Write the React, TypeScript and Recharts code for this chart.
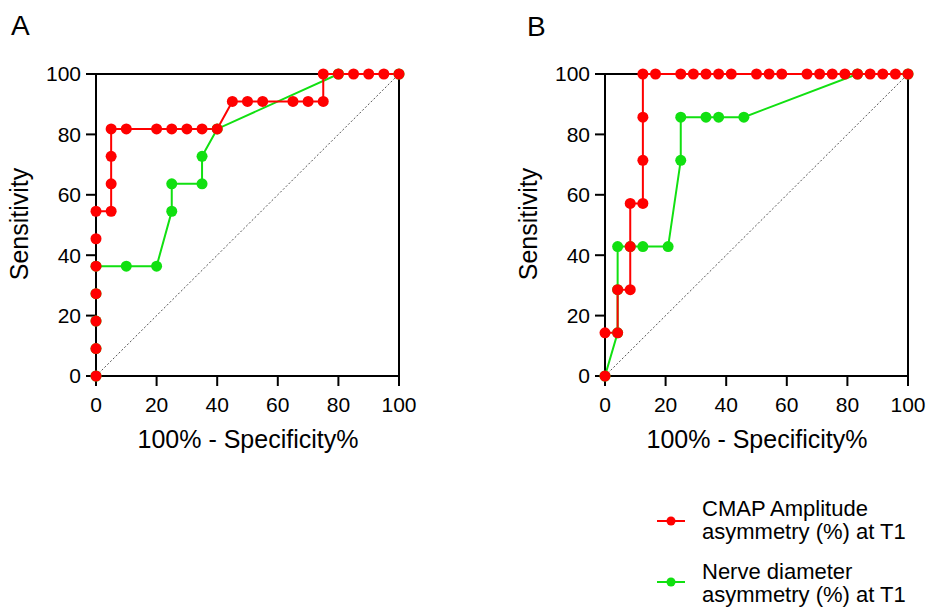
import { LineChart, Line, XAxis, YAxis, ReferenceLine } from 'recharts'

// Panel A: 1 - specificity (%) and sensitivity (%)
const A_CMAP_X = [0, 0, 0, 0, 0, 0, 0, 5, 5, 5, 5, 10, 20, 25, 30, 35, 40, 45, 50, 55, 65, 70, 75, 75, 80, 85, 90, 95, 100]
const A_CMAP_Y = [0, 9.09, 18.18, 27.27, 36.36, 45.45, 54.55, 54.55, 63.64, 72.73, 81.82, 81.82, 81.82, 81.82, 81.82, 81.82, 81.82, 90.91, 90.91, 90.91, 90.91, 90.91, 90.91, 100, 100, 100, 100, 100, 100]
const A_NERVE_X = [0, 0, 0, 0, 0, 10, 20, 25, 25, 35, 35, 40, 80, 100]
const A_NERVE_Y = [0, 9.09, 18.18, 27.27, 36.36, 36.36, 36.36, 54.55, 63.64, 63.64, 72.73, 81.82, 100, 100]

// Panel B
const B_CMAP_X = [0, 0, 4.17, 4.17, 8.33, 8.33, 8.33, 12.5, 12.5, 12.5, 12.5, 16.67, 25, 29.17, 33.33, 37.5, 41.67, 50, 54.17, 58.33, 66.67, 70.83, 75, 79.17, 83.33, 87.5, 91.67, 95.83, 100]
const B_CMAP_Y = [0, 14.29, 14.29, 28.57, 28.57, 42.86, 57.14, 57.14, 71.43, 85.71, 100, 100, 100, 100, 100, 100, 100, 100, 100, 100, 100, 100, 100, 100, 100, 100, 100, 100, 100]
const B_NERVE_X = [0, 4.17, 4.17, 4.17, 8.33, 12.5, 20.83, 25, 25, 33.33, 37.5, 45.83, 83.33, 100]
const B_NERVE_Y = [0, 14.29, 28.57, 42.86, 42.86, 42.86, 42.86, 71.43, 85.71, 85.71, 85.71, 85.71, 100, 100]

const TICKS = [0, 20, 40, 60, 80, 100]
const SERIES_NAMES = ['CMAP Amplitude|asymmetry (%) at T1', 'Nerve diameter|asymmetry (%) at T1']

const RED = '#ff0000'
const GREEN = '#11e011'
const FONT = '"Liberation Sans", Arial, sans-serif'

const toPoints = (xs: number[], ys: number[]) => xs.map((x, i) => ({ x, y: ys[i] }))

function RocPanel({ cmapX, cmapY, nerveX, nerveY }: { cmapX: number[]; cmapY: number[]; nerveX: number[]; nerveY: number[] }) {
    const tick = { fontSize: 21, fill: '#000', fontFamily: FONT }
    return (
        <LineChart width={418} height={460} margin={{ top: 74, right: 19, bottom: 54, left: 36 }}>
            <XAxis
                type="number"
                dataKey="x"
                domain={[0, 100]}
                ticks={TICKS}
                tick={tick}
                tickSize={10}
                tickMargin={11}
                height={30}
                stroke="#000"
                strokeWidth={2}
                allowDuplicatedCategory={false}
            />
            <YAxis
                type="number"
                dataKey="y"
                domain={[0, 100]}
                ticks={TICKS}
                tick={tick}
                tickSize={10}
                tickMargin={5}
                width={60}
                stroke="#000"
                strokeWidth={2}
            />
            <ReferenceLine y={100} stroke="#000" strokeWidth={2} />
            <ReferenceLine x={100} stroke="#000" strokeWidth={2} />
            <ReferenceLine
                segment={[{ x: 0, y: 0 }, { x: 100, y: 100 }]}
                stroke="#555"
                strokeWidth={1}
                strokeDasharray="2 2"
            />
            <Line
                data={toPoints(nerveX, nerveY)}
                dataKey="y"
                stroke={GREEN}
                strokeWidth={2}
                dot={{ r: 5.5, fill: GREEN, stroke: GREEN, strokeWidth: 0 }}
                isAnimationActive={false}
            />
            <Line
                data={toPoints(cmapX, cmapY)}
                dataKey="y"
                stroke={RED}
                strokeWidth={2}
                dot={{ r: 5.5, fill: RED, stroke: RED, strokeWidth: 0 }}
                isAnimationActive={false}
            />
        </LineChart>
    )
}

export default function App() {
    const titleStyle = { fontFamily: FONT, fill: '#000' }
    return (
        <div style={{ position: 'absolute', left: 0, top: 0, width: 928, height: 607, background: '#fff', overflow: 'hidden' }}>
            <div style={{ position: 'absolute', left: 0, top: 0 }}>
                <RocPanel cmapX={A_CMAP_X} cmapY={A_CMAP_Y} nerveX={A_NERVE_X} nerveY={A_NERVE_Y} />
            </div>
            <div style={{ position: 'absolute', left: 509, top: 0 }}>
                <RocPanel cmapX={B_CMAP_X} cmapY={B_CMAP_Y} nerveX={B_NERVE_X} nerveY={B_NERVE_Y} />
            </div>
            {/* titles, panel letters and legend */}
            <svg width={928} height={607} style={{ position: 'absolute', left: 0, top: 0, pointerEvents: 'none' }}>
                <text x={11} y={35} fontSize={28} {...titleStyle}>A</text>
                <text x={527} y={36} fontSize={28} {...titleStyle}>B</text>
                {[0, 509].map((dx) => (
                    <g key={dx}>
                        <text
                            transform={`translate(${28 + dx},224) rotate(-90)`}
                            textAnchor="middle"
                            fontSize={25}
                            {...titleStyle}
                        >
                            Sensitivity
                        </text>
                        <text x={248 + dx} y={448} textAnchor="middle" fontSize={25} {...titleStyle}>
                            100% - Specificity%
                        </text>
                    </g>
                ))}
                {SERIES_NAMES.map((name, i) => {
                    const c = i === 0 ? RED : GREEN
                    const cy = i === 0 ? 521 : 582
                    const base = i === 0 ? 516 : 579
                    const [l1, l2] = name.split('|')
                    return (
                        <g key={name}>
                            <line x1={657} x2={685} y1={cy} y2={cy} stroke={c} strokeWidth={2} />
                            <circle cx={671} cy={cy} r={4.5} fill={c} />
                            <text x={702} y={base} fontSize={22} {...titleStyle}>{l1}</text>
                            <text x={702} y={base + 23} fontSize={22} {...titleStyle}>{l2}</text>
                        </g>
                    )
                })}
            </svg>
        </div>
    )
}
